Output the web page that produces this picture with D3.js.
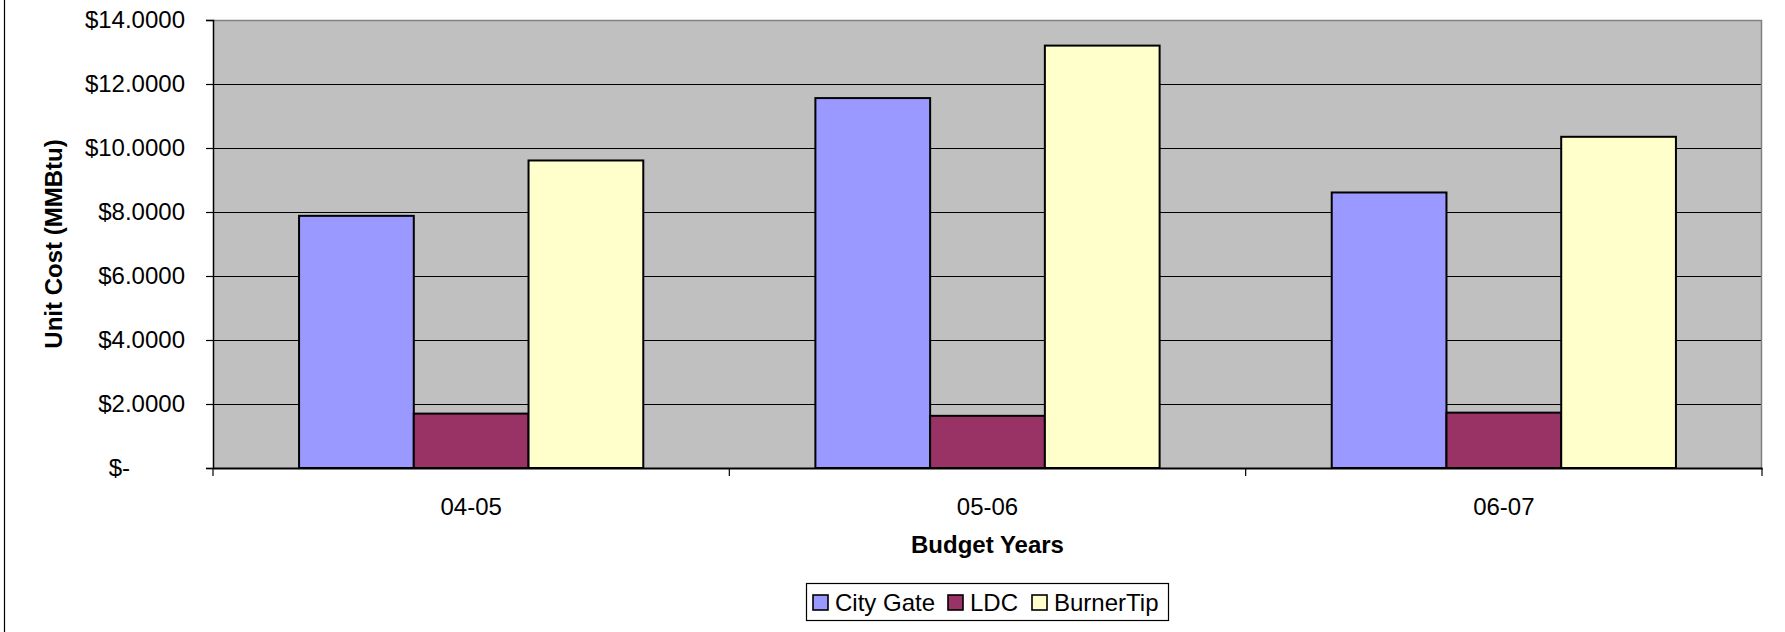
<!DOCTYPE html>
<html>
<head>
<meta charset="utf-8">
<script src="https://cdn.jsdelivr.net/npm/d3@7"></script>
<style>
  body { margin: 0; background: #fff; }
  svg { display: block; font-family: "Liberation Sans", Arial, sans-serif; }
</style>
</head>
<body>
<div id="chart"></div>
<script>
/* DATA */
const categories = ["04-05", "05-06", "06-07"];
const seriesNames = ["City Gate", "LDC", "BurnerTip"];
const cityGate = [7.88, 11.56, 8.61];
const ldc = [1.70, 1.63, 1.73];
const burnerTip = [9.61, 13.20, 10.35];
const yTicks = [0, 2, 4, 6, 8, 10, 12, 14];
const colors = ["#9999FF", "#993366", "#FFFFCC"];

const width = 1785,
  height = 632,
  plot = { left: 213, right: 1762, top: 20, bottom: 468 };

// build rows for the grouped bars
const values = [cityGate, ldc, burnerTip];
const rows = [];
categories.forEach((c, i) => {
  seriesNames.forEach((s, j) => {
    rows.push({ cat: c, series: s, value: values[j][i] });
  });
});

const svg = d3.select("#chart")
  .append("svg")
  .attr("width", width)
  .attr("height", height);

// outer chart-area border (only left edge is in view)
svg.append("line")
  .attr("x1", 4.5).attr("x2", 4.5)
  .attr("y1", 0).attr("y2", height)
  .attr("stroke", "#000")
  .attr("stroke-width", 1.2);

// SCALES
const x0 = d3.scaleBand()
  .domain(categories)
  .range([plot.left, plot.right])
  .padding(0);

const x1 = d3.scaleBand()
  .domain(seriesNames)
  .range([0, x0.bandwidth()])
  .paddingInner(0)
  .paddingOuter(0.75);

const y = d3.scaleLinear()
  .domain([0, 14])
  .range([plot.bottom, plot.top]);

const color = d3.scaleOrdinal().domain(seriesNames).range(colors);

// plot background
svg.append("rect")
  .attr("x", plot.left)
  .attr("y", plot.top)
  .attr("width", plot.right - plot.left)
  .attr("height", plot.bottom - plot.top)
  .attr("fill", "#C0C0C0");

// gridlines
svg.append("g")
  .attr("class", "grid")
  .attr("transform", `translate(${plot.left},0)`)
  .call(d3.axisLeft(y).tickValues(yTicks.slice(1, -1)).tickSize(-(plot.right - plot.left)).tickFormat(""))
  .call(g => g.select(".domain").remove())
  .call(g => g.selectAll("line").attr("stroke", "#000").attr("stroke-width", 1).attr("shape-rendering", "crispEdges"));

// bars
svg.append("g")
  .selectAll("rect.bar")
  .data(rows)
  .join("rect")
  .attr("class", "bar")
  .attr("x", d => x0(d.cat) + x1(d.series))
  .attr("y", d => y(d.value))
  .attr("width", x1.bandwidth())
  .attr("height", d => y(0) - y(d.value))
  .attr("fill", d => color(d.series))
  .attr("stroke", "#000")
  .attr("stroke-width", 2);

// plot border top and right (gray)
svg.append("path")
  .attr("d", `M${plot.left},${plot.top + 0.5}H${plot.right - 0.5}V${plot.bottom}`)
  .attr("fill", "none")
  .attr("stroke", "#808080")
  .attr("stroke-width", 1.5);

// y axis
const fmt = v => v === 0 ? "$-" : "$" + d3.format(".4f")(v);
const yAxis = svg.append("g")
  .attr("transform", `translate(${plot.left},0)`)
  .call(d3.axisLeft(y).tickValues(yTicks).tickSize(7).tickPadding(21).tickFormat(fmt));
yAxis.select(".domain").attr("stroke", "#000").attr("stroke-width", 1.5);
yAxis.selectAll("line").attr("stroke", "#000").attr("stroke-width", 1.2);
yAxis.selectAll("text")
  .attr("font-size", 24)
  .attr("fill", "#000")
  .attr("font-family", "Liberation Sans, Arial, sans-serif");
// the zero label sits further left (accounting format)
yAxis.selectAll(".tick text").filter(d => d === 0).attr("dx", -55);

// x axis with ticks at category boundaries
const xAxis = svg.append("g")
  .attr("transform", `translate(0,${plot.bottom})`)
  .call(d3.axisBottom(x0).tickSize(0).tickPadding(30));
xAxis.select(".domain").attr("stroke", "#000").attr("stroke-width", 2);
xAxis.selectAll("text")
  .attr("font-size", 24)
  .attr("fill", "#000")
  .attr("font-family", "Liberation Sans, Arial, sans-serif");

const boundaries = categories.map(c => x0(c)).concat([plot.right]);
svg.append("g")
  .selectAll("line.xtick")
  .data(boundaries)
  .join("line")
  .attr("class", "xtick")
  .attr("x1", d => d).attr("x2", d => d)
  .attr("y1", plot.bottom).attr("y2", plot.bottom + 8)
  .attr("stroke", "#000")
  .attr("stroke-width", 1.2);

// axis titles
svg.append("text")
  .attr("x", (plot.left + plot.right) / 2)
  .attr("y", 553)
  .attr("text-anchor", "middle")
  .attr("font-size", 24)
  .attr("font-weight", "bold")
  .text("Budget Years");

svg.append("text")
  .attr("transform", `translate(62,${(plot.top + plot.bottom) / 2}) rotate(-90)`)
  .attr("text-anchor", "middle")
  .attr("font-size", 24)
  .attr("font-weight", "bold")
  .text("Unit Cost (MMBtu)");

// legend
const legend = svg.append("g").attr("class", "legend");
legend.append("rect")
  .attr("x", 806.5).attr("y", 583.5)
  .attr("width", 362).attr("height", 37)
  .attr("fill", "#fff")
  .attr("stroke", "#000")
  .attr("stroke-width", 1.2);

const legendX = [813, 948, 1032];
const items = legend.selectAll("g.item")
  .data(seriesNames)
  .join("g")
  .attr("class", "item")
  .attr("transform", (d, i) => `translate(${legendX[i]},595)`);
items.append("rect")
  .attr("width", 15).attr("height", 15)
  .attr("fill", d => color(d))
  .attr("stroke", "#000")
  .attr("stroke-width", 1.6);
items.append("text")
  .attr("x", 22)
  .attr("y", 15.5)
  .attr("font-size", 24)
  .text(d => d);
</script>
</body>
</html>
